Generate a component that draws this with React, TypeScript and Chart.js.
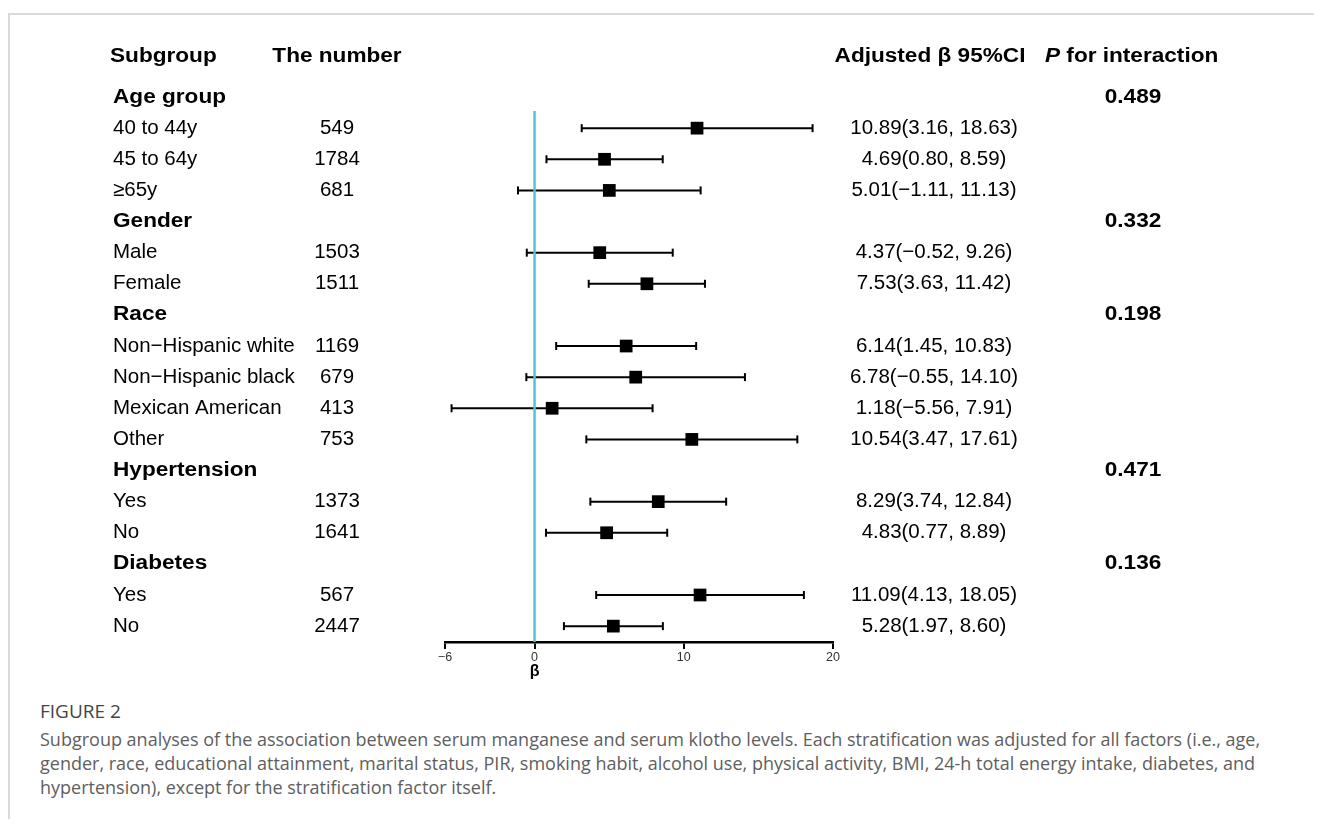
import React, { useEffect, useRef } from "react";
import { Chart, registerables } from "chart.js";

Chart.register(...registerables);

// ---------- data ----------
const groupNames = ["Age group", "Gender", "Race", "Hypertension", "Diabetes"];
const pInteraction = ["0.489", "0.332", "0.198", "0.471", "0.136"];
const subgroupLabels = [
  "40 to 44y", "45 to 64y", "\u226565y",
  "Male", "Female",
  "Non\u2212Hispanic white", "Non\u2212Hispanic black", "Mexican American", "Other",
  "Yes", "No",
  "Yes", "No",
];
const subgroupGroup = [0, 0, 0, 1, 1, 2, 2, 2, 2, 3, 3, 4, 4];
const counts = [549, 1784, 681, 1503, 1511, 1169, 679, 413, 753, 1373, 1641, 567, 2447];
const betaEst = [10.89, 4.69, 5.01, 4.37, 7.53, 6.14, 6.78, 1.18, 10.54, 8.29, 4.83, 11.09, 5.28];
const ciLower = [3.16, 0.8, -1.11, -0.52, 3.63, 1.45, -0.55, -5.56, 3.47, 3.74, 0.77, 4.13, 1.97];
const ciUpper = [18.63, 8.59, 11.13, 9.26, 11.42, 10.83, 14.1, 7.91, 17.61, 12.84, 8.89, 18.05, 8.6];
const xTicks = [-6, 0, 10, 20];
const headers = ["Subgroup", "The number", "Adjusted \u03b2 95%CI", "for interaction"];

const fmt = (v: number) => (v < 0 ? "\u2212" + Math.abs(v).toFixed(2) : v.toFixed(2));

// rows: group header rows and subgroup rows
const groupRow: number[] = [];
const subRow: number[] = [];
(() => {
  let r = 0;
  let last = -1;
  subgroupGroup.forEach((g, i) => {
    if (g !== last) {
      groupRow[g] = r;
      r++;
      last = g;
    }
    subRow[i] = r;
    r++;
  });
})();

const CANVAS_W = 1306;
const CANVAS_H = 690;

function drawText(
  ctx: CanvasRenderingContext2D,
  text: string,
  x: number,
  y: number,
  font: string,
  align: CanvasTextAlign,
  sx = 1
) {
  ctx.save();
  ctx.font = font;
  ctx.textAlign = align;
  ctx.textBaseline = "middle";
  ctx.fillStyle = "#000";
  ctx.translate(x, y);
  ctx.scale(sx, 1);
  ctx.fillText(text, 0, 0);
  ctx.restore();
}

const tablePlugin = {
  id: "forestTable",
  afterDraw(chart: any) {
    const ctx = chart.ctx as CanvasRenderingContext2D;
    const ys = chart.scales.y;
    const xs = chart.scales.x;
    const FAM = "'Liberation Sans', Arial, Helvetica, sans-serif";
    const bold = `bold 20px ${FAM}`;
    const boldItal = `italic bold 20px ${FAM}`;
    const reg = `20.5px ${FAM}`;
    const BSX = 1.13;
    const colLabel = 105;
    const colCount = 329;
    const colCI = 926;
    const colP = 1125;

    const hy = ys.getPixelForValue(-1.3);
    drawText(ctx, headers[0], 102, hy, bold, "left", BSX);
    drawText(ctx, headers[1], colCount, hy, bold, "center", BSX);
    drawText(ctx, headers[2], 922, hy, bold, "center", BSX);
    // "P for interaction" with italic P
    ctx.save();
    ctx.font = boldItal;
    const pW = ctx.measureText("P ").width * BSX;
    ctx.restore();
    drawText(ctx, "P", 1037, hy, boldItal, "left", BSX);
    drawText(ctx, headers[3], 1037 + pW, hy, bold, "left", BSX);

    groupNames.forEach((g, gi) => {
      const y = ys.getPixelForValue(groupRow[gi]);
      drawText(ctx, g, colLabel, y, bold, "left", BSX);
      drawText(ctx, pInteraction[gi], colP, y, bold, "center", BSX);
    });
    subgroupLabels.forEach((s, i) => {
      const y = ys.getPixelForValue(subRow[i]);
      drawText(ctx, s, colLabel, y, reg, "left");
      drawText(ctx, String(counts[i]), colCount, y, reg, "center");
      drawText(
        ctx,
        `${fmt(betaEst[i])}(${fmt(ciLower[i])}, ${fmt(ciUpper[i])})`,
        colCI,
        y,
        reg,
        "center"
      );
    });
    // axis title beta under zero
    drawText(ctx, "\u03b2", xs.getPixelForValue(0), 664, `bold 16px ${FAM}`, "center");
  },
};

export default function App() {
  const ref = useRef<HTMLCanvasElement | null>(null);

  useEffect(() => {
    if (!ref.current) return;
    const lastRow = subRow[subRow.length - 1];
    const datasets: any[] = [];
    datasets.push({
      type: "line",
      data: [
        { x: 0, y: 0.45 },
        { x: 0, y: lastRow + 0.51 },
      ],
      borderColor: "#4ec7d4",
      borderWidth: 2.5,
      pointRadius: 0,
      clip: false,
    });
    betaEst.forEach((_, i) => {
      datasets.push({
        type: "line",
        data: [
          { x: ciLower[i], y: subRow[i] },
          { x: ciUpper[i], y: subRow[i] },
        ],
        borderColor: "#000",
        borderWidth: 2,
        pointStyle: "line",
        pointRadius: 4,
        pointRotation: 90,
        pointBorderWidth: 2,
        pointBorderColor: "#000",
        pointBackgroundColor: "#000",
        clip: false,
      });
    });
    datasets.push({
      type: "scatter",
      data: betaEst.map((b, i) => ({ x: b, y: subRow[i] })),
      pointStyle: "rect",
      pointRadius: 9,
      backgroundColor: "#000",
      borderColor: "#000",
      borderWidth: 0,
      clip: false,
    });

    const chart = new Chart(ref.current, {
      type: "scatter",
      data: { datasets },
      options: {
        animation: false,
        responsive: false,
        events: [],
        layout: { padding: { left: 437, right: CANVAS_W - 825, top: 26.8, bottom: 12 } },
        plugins: { legend: { display: false }, tooltip: { enabled: false } },
        scales: {
          x: {
            type: "linear",
            min: -6,
            max: 20,
            position: "bottom",
            afterBuildTicks: (scale: any) => {
              scale.ticks = xTicks.map((v) => ({ value: v }));
            },
            afterFit: (scale: any) => {
              scale.height = 44;
            },
            grid: {
              drawOnChartArea: false,
              drawTicks: true,
              tickLength: 7,
              color: "#000",
              lineWidth: 2,
            },
            border: { display: true, color: "#000", width: 2.5 },
            ticks: {
              color: "#333",
              padding: 1,
              font: { size: 12.5, family: "'Liberation Sans', Arial, sans-serif" },
              callback: (v: any) => (v < 0 ? "\u2212" + Math.abs(v) : String(v)),
            },
          },
          y: {
            type: "linear",
            reverse: true,
            min: -2,
            max: lastRow + 0.51,
            display: false,
          },
        },
      },
      plugins: [tablePlugin],
    } as any);
    return () => chart.destroy();
  }, []);

  const captionStyle: React.CSSProperties = {
    fontFamily: "'Open Sans', 'Noto Sans', sans-serif",
    fontSize: 18,
    lineHeight: "24px",
    color: "#5e5e5e",
    whiteSpace: "nowrap",
  };

  return (
    <div style={{ position: "relative", height: 811 }}>
      <div
        style={{
          position: "absolute",
          left: 0,
          top: 5,
          width: 1314,
          height: 806,
          borderTop: "2px solid #d9d9d9",
          borderLeft: "2px solid #d9d9d9",
          boxSizing: "border-box",
        }}
      />
      <canvas
        ref={ref}
        width={CANVAS_W}
        height={CANVAS_H}
        style={{ position: "absolute", left: 0, top: 0, width: CANVAS_W, height: CANVAS_H }}
      />
      <div style={{ position: "absolute", left: 32, top: 691 }}>
        <div style={{ ...captionStyle, fontSize: 19, color: "#444", marginBottom: 4 }}>FIGURE 2</div>
        <div style={captionStyle}>
          Subgroup analyses of the association between serum manganese and serum klotho levels. Each stratification was adjusted for all factors (i.e., age,
        </div>
        <div style={captionStyle}>
          gender, race, educational attainment, marital status, PIR, smoking habit, alcohol use, physical activity, BMI, 24-h total energy intake, diabetes, and
        </div>
        <div style={captionStyle}>hypertension), except for the stratification factor itself.</div>
      </div>
    </div>
  );
}
